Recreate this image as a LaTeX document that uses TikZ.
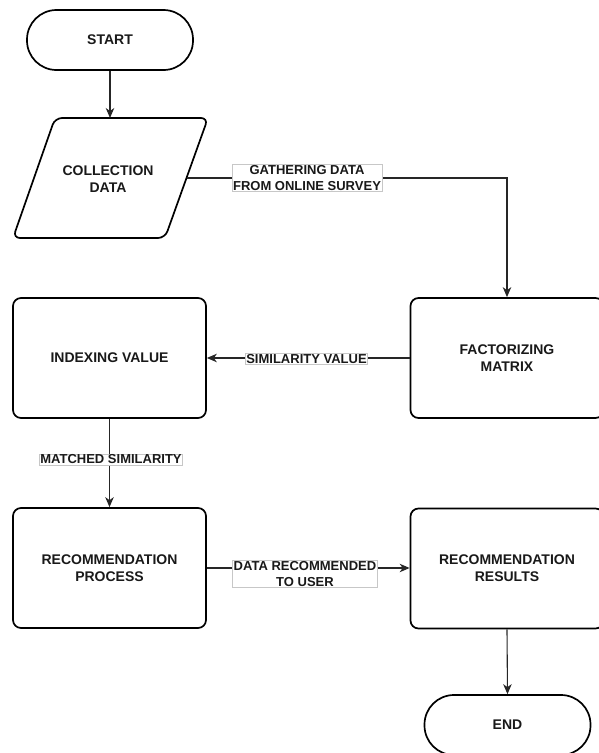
\documentclass[tikz,border=0pt]{standalone}
\usepackage{fontspec}
\setmainfont{Liberation Sans}
\usetikzlibrary{arrows.meta}
\begin{document}
\begin{tikzpicture}[x=1pt,y=-1pt,
  txt/.style={align=center, font=\fontsize{14}{17}\selectfont\bfseries, text=black!90},
  box/.style={txt, draw, line width=1.7pt, rounded corners=8pt, minimum width=193pt, minimum height=120pt, inner sep=0pt},
  term/.style={txt, draw, line width=1.7pt, rounded corners=29.5pt, minimum width=166pt, minimum height=60pt, inner sep=0pt},
  shapeline/.style={draw, line width=1.7pt, rounded corners=7pt},
  conn/.style={draw=black!85, line width=1.1pt, -{Stealth[length=10pt,width=8.5pt,inset=3pt]}},
  lab/.style={draw=black!22, fill=white, line width=0.6pt, align=center, font=\fontsize{13}{16}\selectfont\bfseries, text=black!90, inner sep=1pt}
]
\useasboundingbox (0,0) rectangle (598,753);

% nodes
\node[term] (start) at (110,40) {START};
\draw[shapeline] (55,118) -- (208,118) -- (165,238) -- (13,238) -- cycle;
\node[txt] (cd) at (108,179) {COLLECTION\\DATA};
\coordinate (cdtop) at (110,118);
\coordinate (cdright) at (186.5,178);
\node[box] (fm) at (507,358) {FACTORIZING\\MATRIX};
\node[box] (iv) at (109.5,358) {INDEXING VALUE};
\node[box] (rp) at (109.5,568) {RECOMMENDATION\\PROCESS};
\node[box] (rr) at (507,568.5) {RECOMMENDATION\\RESULTS};
\node[term] (end) at (507.5,725) {END};

% connectors
\draw[conn] (start.south) -- (cdtop);
\draw[conn] (cdright) -| (fm.north);
\draw[conn] (fm.west) -- (iv.east);
\draw[conn] (iv.south) -- (rp.north);
\draw[conn] (rp.east) -- (rp.east -| rr.west);
\draw[conn] (rr.south) -- (end.north);

% connector labels
\node[lab] (l1) at (307,178) {GATHERING DATA\\FROM ONLINE SURVEY};
\node[lab] (l2) at (306.5,359) {SIMILARITY VALUE};
\node[lab] (l3) at (111,459.5) {MATCHED SIMILARITY};
\node[lab] (l4) at (305,574) {DATA RECOMMENDED\\TO USER};
\end{tikzpicture}
\end{document}
